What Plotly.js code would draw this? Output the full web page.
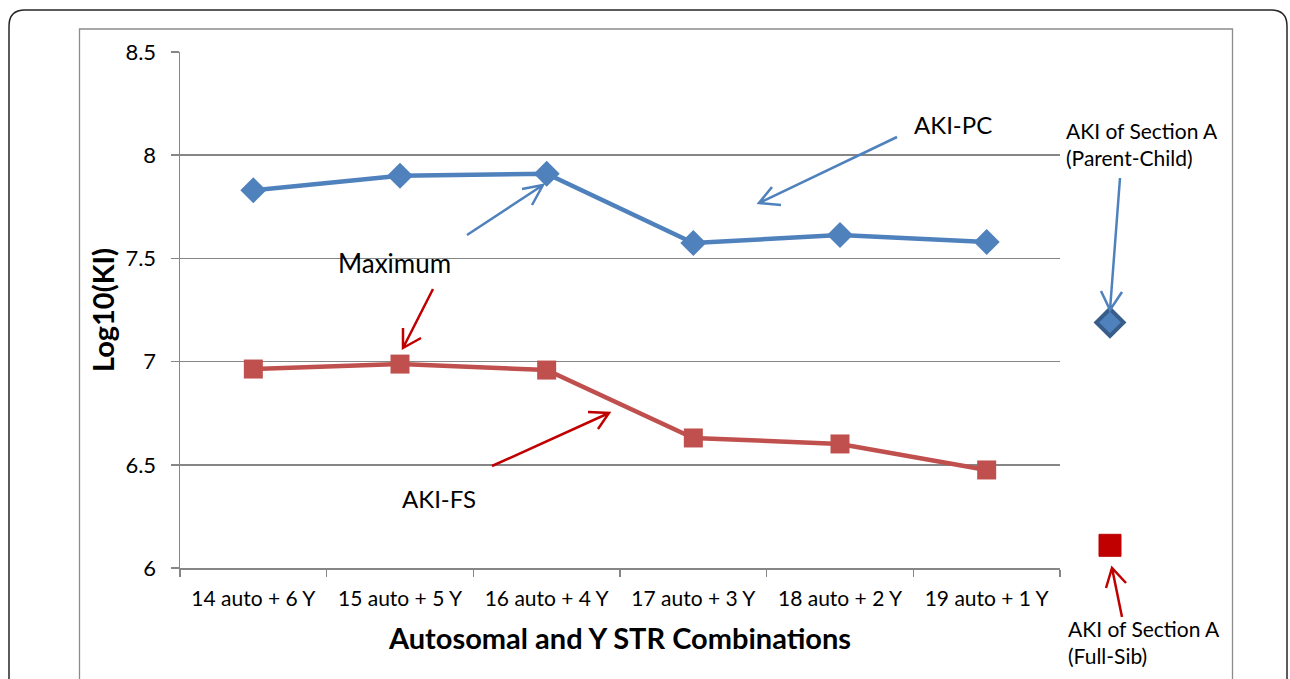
<!DOCTYPE html>
<html>
<head>
<meta charset="utf-8">
<script src="https://cdn.plot.ly/plotly-3.0.1.min.js"></script>
<style>html,body{margin:0;padding:0;background:#fff;}#chart{width:1290px;height:679px;}</style>
</head>
<body>
<div id="chart"></div>
<script>
// ---- data ----
var categories = ["14 auto + 6 Y", "15 auto + 5 Y", "16 auto + 4 Y", "17 auto + 3 Y", "18 auto + 2 Y", "19 auto + 1 Y"];
var akiPC = [7.83, 7.90, 7.91, 7.575, 7.613, 7.579];
var akiFS = [6.964, 6.988, 6.959, 6.630, 6.601, 6.475];
var sectionAPC = [7.19];
var sectionAFS = [6.11];
var sectionAX = ["Section A"];

// ---- layout geometry (pixels) ----
var W = 1290, H = 679, L = 180, R = 1180, T = 52, B = 568, MAINR = 1060;
function px(x) { return (x - L) / (R - L); }
function py(y) { return (B - y) / (B - T); }
function P(x, y) { return px(x).toFixed(5) + "," + py(y).toFixed(5); }

function arrowShape(x0, y0, x1, y1, a1, a2, color, width) {
  var path = "M" + P(x0, y0) + " L" + P(x1, y1) +
             " M" + P(a1[0], a1[1]) + " L" + P(x1, y1) + " L" + P(a2[0], a2[1]);
  return {type: "path", xref: "paper", yref: "paper", path: path,
          line: {color: color, width: width}, layer: "above"};
}

var blueA = "#4F81BD", redA = "#C00000";
var shapes = [
  {type: "path", xref: "paper", yref: "paper", layer: "below",
   path: "M" + P(9, 700) + " L" + P(9, 26) + " Q" + P(9, 10) + " " + P(25, 10) +
         " L" + P(1271, 10) + " Q" + P(1287, 10) + " " + P(1287, 26) + " L" + P(1287, 700),
   line: {color: "#262626", width: 1.5}},
  {type: "path", xref: "paper", yref: "paper", layer: "below",
   path: "M" + P(79.5, 700) + " L" + P(79.5, 29) + " L" + P(1232.5, 29) + " L" + P(1232.5, 700),
   line: {color: "#8C8C8C", width: 1.3}},
  arrowShape(897, 137, 759, 203, [772, 187], [781, 205], blueA, 2.5),
  arrowShape(467, 235, 543, 185, [522, 189], [532, 205], blueA, 2.5),
  arrowShape(433, 289, 403, 348, [403, 328], [421, 338], redA, 2.5),
  arrowShape(492, 466, 609, 413, [588, 412], [598, 429], redA, 2.5),
  arrowShape(1120, 178, 1110, 310, [1101, 291], [1122, 292], blueA, 2.5),
  arrowShape(1122, 617, 1112, 568, [1106, 588], [1126, 583], redA, 2.5)
];

var FONT = "Lato, 'Open Sans', sans-serif";
function txt(x, y, text, size, anchor) {
  return {xref: "paper", yref: "paper", x: px(x), y: py(y), text: text, showarrow: false,
          xanchor: anchor || "center", yanchor: "middle", align: "left",
          font: {family: FONT, size: size, color: "#000"}};
}
var annotations = [
  txt(953, 124, "AKI-PC", 24),
  txt(394, 263, "Maximum", 26),
  txt(439, 498, "AKI-FS", 24),
  txt(1064, 144, "AKI of Section A<br>(Parent-Child)", 21, "left"),
  txt(1066, 642, "AKI of Section A<br>(Full-Sib)", 21, "left")
];

var traces = [
  {type: "scatter", mode: "lines+markers", x: categories, y: akiPC, name: "AKI-PC",
   line: {color: "#4F81BD", width: 4.5}, marker: {symbol: "diamond", size: 20, color: "#4F81BD"}},
  {type: "scatter", mode: "lines+markers", x: categories, y: akiFS, name: "AKI-FS",
   line: {color: "#C0504D", width: 4.5}, marker: {symbol: "square", size: 19, color: "#C0504D"}},
  {type: "scatter", mode: "markers", x: sectionAX, y: sectionAPC, xaxis: "x2", yaxis: "y2",
   marker: {symbol: "diamond", size: 21, color: "#4F81BD", line: {color: "#385D8A", width: 4}}},
  {type: "scatter", mode: "markers", x: sectionAX, y: sectionAFS, xaxis: "x2", yaxis: "y2",
   marker: {symbol: "square", size: 22, color: "#C00000", line: {color: "#C00000", width: 1}}}
];

var axisGray = "#868686";
var layout = {
  width: W, height: H, showlegend: false,
  margin: {l: L, r: W - R, t: T, b: H - B, pad: 0},
  paper_bgcolor: "#fff", plot_bgcolor: "rgba(0,0,0,0)",
  font: {family: FONT, color: "#000"},
  xaxis: {type: "category", domain: [0, (MAINR - L) / (R - L)], range: [-0.5, 5.5],
          tickson: "boundaries", ticks: "outside", ticklen: 7,
          tickcolor: axisGray, tickwidth: 1.5, showline: true, linecolor: axisGray, linewidth: 1.5,
          showgrid: false, zeroline: false, tickfont: {size: 21, family: FONT},
          ticklabelstandoff: 11, anchor: "y",
          title: {text: "<b>Autosomal and Y STR Combinations</b>", font: {size: 29, family: FONT}, standoff: 20}},
  xaxis2: {type: "category", domain: [(MAINR - L) / (R - L), 1], range: [-0.5, 0.7], anchor: "y2",
           visible: false, showgrid: false, zeroline: false},
  yaxis: {range: [6, 8.5], dtick: 0.5, tick0: 6, ticks: "outside", ticklen: 8, tickcolor: axisGray,
          tickwidth: 1.5, showline: true, linecolor: axisGray, linewidth: 1.5, anchor: "x",
          showgrid: true, gridcolor: axisGray, gridwidth: 1.5, zeroline: false,
          tickfont: {size: 22, family: FONT}, ticklabelstandoff: 10,
          title: {text: "<b>Log10(KI)</b>", font: {size: 29, family: FONT}, standoff: 2}},
  yaxis2: {range: [6, 8.5], anchor: "x2", visible: false, showgrid: false, zeroline: false},
  shapes: shapes,
  annotations: annotations
};

Plotly.newPlot("chart", traces, layout, {staticPlot: true, displayModeBar: false});
</script>
</body>
</html>
